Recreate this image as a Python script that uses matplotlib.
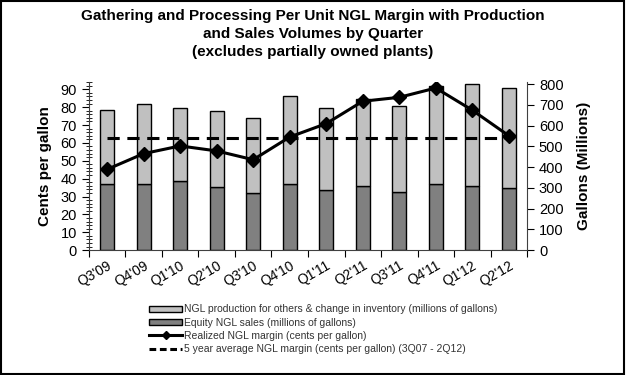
import matplotlib
matplotlib.use("Agg")
import matplotlib.pyplot as plt
import numpy as np
from matplotlib.lines import Line2D
from matplotlib.patches import Patch, Rectangle
from matplotlib.ticker import MultipleLocator, FixedLocator

plt.rcParams['font.family'] = ['Liberation Sans', 'DejaVu Sans']

quarters = ["Q3'09", "Q4'09", "Q1'10", "Q2'10", "Q3'10", "Q4'10",
            "Q1'11", "Q2'11", "Q3'11", "Q4'11", "Q1'12", "Q2'12"]
total_gallons = [677, 703, 687, 671, 637, 742, 684, 731, 695, 790, 803, 781]
equity_sales = [321, 318, 334, 305, 276, 321, 292, 311, 279, 321, 311, 300]
others_inventory = [t - e for t, e in zip(total_gallons, equity_sales)]
realized_margin = [45.2, 54.0, 58.3, 55.5, 50.6, 63.3, 70.8, 83.3, 85.5, 90.7, 78.3, 64.0]
five_year_avg = 62.7

fig = plt.figure(figsize=(6.26, 3.75), dpi=100)
ax = fig.add_axes([0.142, 0.333, 0.700, 0.448])
ax2 = ax.twinx()

x = np.arange(len(quarters))
ax2.bar(x, equity_sales, width=0.38, color='#808080', edgecolor='black', linewidth=1.0, zorder=2)
ax2.bar(x, others_inventory, bottom=equity_sales, width=0.38, color='#C0C0C0',
        edgecolor='black', linewidth=1.0, zorder=2)

# line on the left axis, drawn above bars
ax.set_zorder(ax2.get_zorder() + 1)
ax.patch.set_visible(False)
ax.plot(x, realized_margin, color='black', linewidth=2.2, marker='D', markersize=7, zorder=5)
ax.plot([x[0], x[-1]], [five_year_avg, five_year_avg], color='black', linewidth=2.2,
        linestyle=(0, (4, 2.5)), zorder=4)

ax.set_xlim(-0.5, len(quarters) - 0.5)
ax.set_ylim(0, 94)
ax2.set_ylim(0, 810)

ax.yaxis.set_major_locator(FixedLocator(np.arange(0, 91, 10)))
ax.yaxis.set_minor_locator(MultipleLocator(2))
ax2.yaxis.set_major_locator(FixedLocator(np.arange(0, 801, 100)))

ax.set_xticks(x)
ax.set_xticklabels(quarters, rotation=30, ha='right', rotation_mode='anchor', fontsize=10)
ax.xaxis.set_minor_locator(FixedLocator(np.arange(-0.5, len(quarters), 1.0)))
ax.tick_params(axis='x', which='major', length=0, pad=6)
ax.tick_params(axis='x', which='minor', length=5, direction='out', width=0.8)
ax.tick_params(axis='y', which='major', length=5, direction='out', labelsize=10.5, width=0.8)
ax.tick_params(axis='y', which='minor', length=4, direction='inout', width=0.6)
ax2.tick_params(axis='y', which='major', length=5, direction='out', labelsize=10.5, width=0.8)

for a in (ax, ax2):
    a.spines['top'].set_visible(False)
    for s in ('left', 'right', 'bottom'):
        a.spines[s].set_linewidth(0.8)
        a.spines[s].set_color('#404040')
ax.spines['right'].set_visible(False)
ax2.spines['left'].set_visible(False)
ax2.spines['bottom'].set_visible(False)

ax.set_ylabel('Cents per gallon', fontsize=11, fontweight='bold', labelpad=6)
ax2.set_ylabel('Gallons (Millions)', fontsize=11, fontweight='bold', labelpad=10)

fig.text(0.5, 0.975, 'Gathering and Processing Per Unit NGL Margin with Production\n'
         'and Sales Volumes by Quarter\n(excludes partially owned plants)',
         ha='center', va='top', fontsize=11, fontweight='bold', linespacing=1.35)

handles = [
    Patch(facecolor='#C0C0C0', edgecolor='black', linewidth=1.0),
    Patch(facecolor='#808080', edgecolor='black', linewidth=1.0),
    Line2D([], [], color='black', linewidth=2.2, marker='D', markersize=4),
    Line2D([], [], color='black', linewidth=2.2, linestyle=(0, (2.2, 1.2))),
]
labels = [
    'NGL production for others & change in inventory (millions of gallons)',
    'Equity NGL sales (millions of gallons)',
    'Realized NGL margin (cents per gallon)',
    '5 year average NGL margin (cents per gallon) (3Q07 - 2Q12)',
]
leg = fig.legend(handles, labels, loc='upper left', bbox_to_anchor=(0.238, 0.188),
                 frameon=False, fontsize=7.5, handlelength=3.2, handleheight=0.5,
                 handletextpad=0.15, labelspacing=0.3, borderaxespad=0, borderpad=0)
for t in leg.get_texts():
    t.set_color('#333333')

fig.patches.append(Rectangle((0.002, 0.003), 0.995, 0.994, transform=fig.transFigure,
                             fill=False, edgecolor='black', linewidth=1.5))

fig.savefig('out.png', dpi=100)
